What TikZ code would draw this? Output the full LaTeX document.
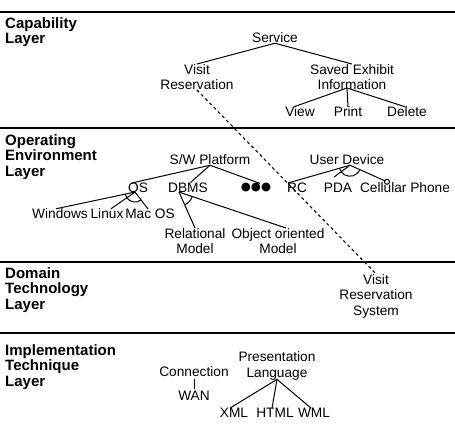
\documentclass[tikz,border=0pt]{standalone}
\usepackage{fontspec}
\setmainfont{Liberation Sans}
\newfontfamily\symfont{DejaVu Sans}
\usetikzlibrary{calc}
\begin{document}
\begin{tikzpicture}[x=1pt,y=1pt,
  lbl/.style={font=\fontsize{13.7}{15.5}\selectfont, inner sep=0pt, align=center},
  layer/.style={font=\fontsize{15}{15.5}\selectfont\bfseries, inner sep=0pt, align=left, anchor=north west},
  sepline/.style={line width=2pt},
  edge/.style={line width=1pt},
]
\useasboundingbox (0,0) rectangle (455,-428);
% separator lines
\coordinate (s1a) at (0,-12);  \coordinate (s1b) at (455,-12);
\coordinate (s2a) at (0,-128); \coordinate (s2b) at (455,-128);
\coordinate (s3a) at (0,-262); \coordinate (s3b) at (455,-262);
\coordinate (s4a) at (0,-333); \coordinate (s4b) at (455,-333);
\draw[sepline] (s1a) -- (s1b);
\draw[sepline] (s2a) -- (s2b);
\draw[sepline] (s3a) -- (s3b);
\draw[sepline] (s4a) -- (s4b);
% layer labels
\node[layer] (capL) at (5,-17) {Capability\\Layer};
\node[layer] (opL) at (5,-134) {Operating\\Environment\\Layer};
\node[layer] (domL) at (5,-267) {Domain\\Technology\\Layer};
\node[layer] (impL) at (5,-344) {Implementation\\Technique\\Layer};
% capability layer
\node[lbl] (service) at (275,-38) {Service};
\node[lbl] (visit) at (197,-77) {Visit\\Reservation};
\node[lbl] (saved) at (352,-77) {Saved Exhibit\\Information};
\node[lbl] (view) at (300,-112) {View};
\node[lbl] (print) at (348,-112) {Print};
\node[lbl] (delete) at (407,-112) {Delete};
\draw[edge] (service.south) -- (visit.north);
\draw[edge] (service.south) -- (saved.north);
\coordinate (infoB) at ($(saved.south)+(-5,2)$);
\draw[edge] (infoB) -- ($(view.north)+(-6,0)$);
\draw[edge] (infoB) -- (print.north);
\draw[edge] (infoB) -- ($(delete.north)+(-2,0)$);
% operating environment layer
\node[lbl] (swp) at (210,-160) {S/W Platform};
\node[lbl] (ud) at (347,-160) {User Device};
\node[lbl] (os) at (138,-188) {OS};
\node[lbl] (dbms) at (188,-188) {DBMS};
\node[lbl] (dots) at (256,-188) {\symfont\fontsize{11.5}{11.5}\selectfont ●●●};
\node[lbl] (rc) at (297,-188) {RC};
\node[lbl] (pda) at (338,-188) {PDA};
\node[lbl] (cell) at (405,-188) {Cellular Phone};
\node[lbl] (win) at (60,-214) {Windows};
\node[lbl] (linux) at (107,-214) {Linux};
\node[lbl] (mac) at (150,-214) {Mac OS};
\node[lbl] (rel) at (195,-241) {Relational\\Model};
\node[lbl] (obj) at (278,-241) {Object oriented\\Model};
\draw[edge] (swp.south) -- ($(os.north)+(-6,0)$);
\draw[edge] (swp.south) -- ($(dbms.north)+(2,0)$);
\draw[edge] (swp.south) -- ($(dots.north)+(4,0)$);
\coordinate (udB) at ($(ud.south)+(3,0)$);
\coordinate (rcT) at ($(rc.north)+(-9,0)$);
\draw[edge] (udB) -- (rcT);
\draw[edge] (udB) -- ($(pda.north)+(-4,6)$);
\coordinate (cellO) at ($(cell.north)+(-18,1)$);
\draw[edge] (udB) -- ($(cellO)!2.5pt!(udB)$);
\draw[edge] (cellO) circle[radius=2.5pt];
\draw[edge] let \p1=(udB), \p2=(rcT), \p3=(cellO),
  \n1={atan2(\y2-\y1,\x2-\x1)}, \n2={atan2(\y3-\y1,\x3-\x1)} in
  ($(udB)+(\n1:11pt)$) arc[start angle=\n1, end angle=\n2, radius=11pt];
\coordinate (osB) at ($(os.south)+(-3,1)$);
\coordinate (winT) at ($(win.north)+(-4,0)$);
\coordinate (macT) at ($(mac.north)+(-2,0)$);
\draw[edge] (osB) -- (winT);
\draw[edge] (osB) -- ($(linux.north)+(4,0)$);
\draw[edge] (osB) -- (macT);
\draw[edge] let \p1=(osB), \p2=(winT), \p3=(macT),
  \n1={atan2(\y2-\y1,\x2-\x1)}, \n2={atan2(\y3-\y1,\x3-\x1)} in
  ($(osB)+(\n1:10pt)$) arc[start angle=\n1, end angle=\n2, radius=10pt];
\coordinate (dbB) at ($(dbms.south)+(-9,1)$);
\coordinate (relT) at ($(rel.north)+(0,0)$);
\coordinate (objT) at ($(obj.north)+(8,0)$);
\draw[edge] (dbB) -- (relT);
\draw[edge] (dbB) -- (objT);
\draw[edge] let \p1=(dbB), \p2=(relT), \p3=(objT),
  \n1={atan2(\y2-\y1,\x2-\x1)}, \n2={atan2(\y3-\y1,\x3-\x1)} in
  ($(dbB)+(\n1:14pt)$) arc[start angle=\n1, end angle=\n2, radius=14pt];
% domain technology layer
\node[lbl] (vrs) at (376,-296) {Visit\\Reservation\\System};
\draw[line width=1.1pt, dash pattern=on 3pt off 3pt] (visit.south) -- (vrs.north);
% implementation technique layer
\node[lbl] (conn) at (194,-372) {Connection};
\node[lbl] (wan) at (194,-396) {WAN};
\draw[line width=0.5pt] ($(conn.south)+(0,-2)$) -- ($(wan.north)+(0,2)$);
\node[lbl] (pres) at (277,-366) {Presentation\\Language};
\node[lbl] (xml) at (234,-413) {XML};
\node[lbl] (html) at (275,-413) {HTML};
\node[lbl] (wml) at (314,-413) {WML};
\coordinate (presB) at ($(pres.south)+(0,1)$);
\draw[edge] (presB) -- ($(xml.north)+(-4,0)$);
\draw[edge] (presB) -- ($(html.north)+(-3,0)$);
\draw[edge] (presB) -- ($(wml.north)+(-3,0)$);
\end{tikzpicture}
\end{document}
